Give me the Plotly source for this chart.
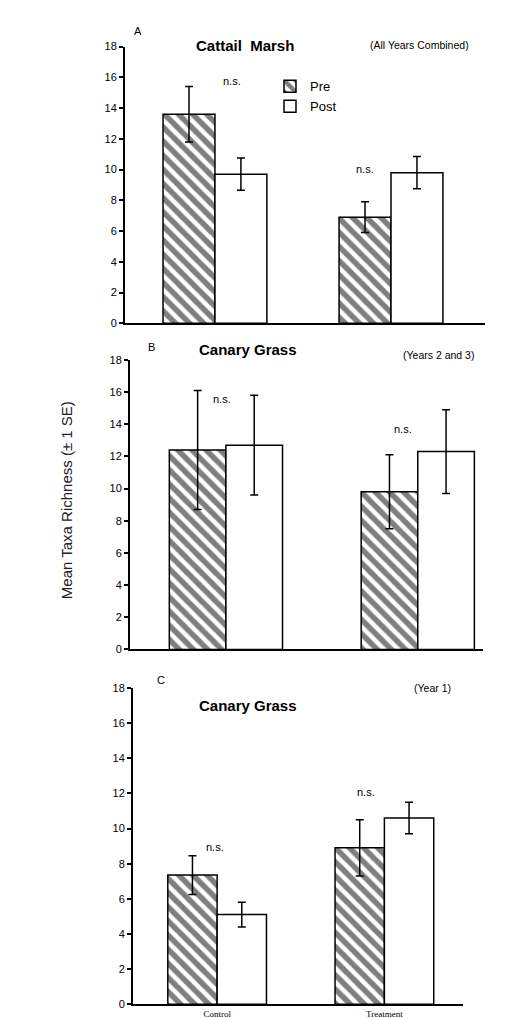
import plotly.graph_objects as go

categories = ["Control", "Treatment"]

# Panel A: Cattail Marsh (All Years Combined)
a_pre = [13.6, 6.9]
a_pre_se = [1.8, 1.0]
a_post = [9.7, 9.8]
a_post_se = [1.05, 1.05]

# Panel B: Canary Grass (Years 2 and 3)
b_pre = [12.4, 9.8]
b_pre_se = [3.7, 2.3]
b_post = [12.7, 12.3]
b_post_se = [3.1, 2.6]

# Panel C: Canary Grass (Year 1)
c_pre = [7.35, 8.9]
c_pre_se = [1.1, 1.6]
c_post = [5.1, 10.6]
c_post_se = [0.7, 0.9]

y_ticks = [0, 2, 4, 6, 8, 10, 12, 14, 16, 18]

W, H = 507, 1018
FONT = "Liberation Sans, Arial, sans-serif"

fig = go.Figure()

panels = [
    ("x", "y", a_pre, a_pre_se, a_post, a_post_se, True),
    ("x2", "y2", b_pre, b_pre_se, b_post, b_post_se, False),
    ("x3", "y3", c_pre, c_pre_se, c_post, c_post_se, False),
]

for xa, ya, pre, pre_se, post, post_se, show in panels:
    fig.add_trace(go.Bar(
        x=categories, y=pre, name="Pre", xaxis=xa, yaxis=ya,
        offsetgroup="pre", legendgroup="pre", showlegend=show,
        marker=dict(color="white", line=dict(color="black", width=1.5),
                    pattern=dict(shape="\\", fgcolor="black", bgcolor="white",
                                 size=10, solidity=0.55)),
        error_y=dict(type="data", array=pre_se, color="black", thickness=1.5, width=4),
    ))
    fig.add_trace(go.Bar(
        x=categories, y=post, name="Post", xaxis=xa, yaxis=ya,
        offsetgroup="post", legendgroup="post", showlegend=show,
        marker=dict(color="white", line=dict(color="black", width=1.5)),
        error_y=dict(type="data", array=post_se, color="black", thickness=1.5, width=4),
    ))

def px_x(p):
    return p / W

def px_y(p):
    return 1 - p / H

# axis geometry (pixels)
geo = {
    "": dict(x0=117, x1=477, y0=313, y1=33, r0=-0.511, r1=1.534),
    "2": dict(x0=122, x1=475, y0=643, y1=350, r0=-0.50, r1=1.34),
    "3": dict(x0=125, x1=455, y0=1002, y1=682, r0=-0.503, r1=1.47),
}

for k, g in geo.items():
    fig.update_layout(**{
        "xaxis" + k: dict(
            domain=[px_x(g["x0"]), px_x(g["x1"])],
            anchor="y" + k, range=[g["r0"], g["r1"]],
            showline=True, linecolor="black", linewidth=2,
            showgrid=False, zeroline=False,
            ticks="", showticklabels=(k == "3"),
            tickfont=dict(family="Liberation Serif, Times New Roman, serif", size=9, color="black"),
            type="category", fixedrange=True,
        ),
        "yaxis" + k: dict(
            domain=[px_y(g["y0"]), px_y(g["y1"])],
            anchor="x" + k, range=[0, 18],
            tickvals=y_ticks, ticks="outside", ticklen=4, tickwidth=1.5, tickcolor="black",
            showline=True, linecolor="black", linewidth=2,
            showgrid=False, zeroline=False,
            tickfont=dict(family=FONT, size=11, color="black"),
        ),
    })

annotations = [
    # panel A
    dict(x=px_x(130), y=px_y(17), text="A", font=dict(size=11)),
    dict(x=px_x(237), y=px_y(32), text="<b>Cattail  Marsh</b>", font=dict(size=15)),
    dict(x=px_x(411), y=px_y(31), text="(All Years Combined)", font=dict(size=10.5)),
    dict(x=px_x(224), y=px_y(68), text="n.s.", font=dict(size=11)),
    dict(x=px_x(357), y=px_y(157), text="n.s.", font=dict(size=11)),
    # panel B
    dict(x=px_x(143), y=px_y(337), text="B", font=dict(size=11)),
    dict(x=px_x(240), y=px_y(340), text="<b>Canary Grass</b>", font=dict(size=15)),
    dict(x=px_x(430), y=px_y(345), text="(Years 2 and 3)", font=dict(size=10.5)),
    dict(x=px_x(214), y=px_y(390), text="n.s.", font=dict(size=11)),
    dict(x=px_x(395), y=px_y(420), text="n.s.", font=dict(size=11)),
    # panel C
    dict(x=px_x(153), y=px_y(674), text="C", font=dict(size=11)),
    dict(x=px_x(240), y=px_y(700), text="<b>Canary Grass</b>", font=dict(size=15)),
    dict(x=px_x(424), y=px_y(682), text="(Year 1)", font=dict(size=10.5)),
    dict(x=px_x(207), y=px_y(843), text="n.s.", font=dict(size=11)),
    dict(x=px_x(358), y=px_y(787), text="n.s.", font=dict(size=11)),
]
for a in annotations:
    a.update(xref="paper", yref="paper", showarrow=False,
             xanchor="center", yanchor="middle")
    a["font"].update(family=FONT, color="black")

annotations.append(dict(
    xref="paper", yref="paper", x=px_x(58), y=px_y(492),
    text="Mean Taxa Richness (± 1 SE)", textangle=-90, showarrow=False,
    xanchor="center", yanchor="middle",
    font=dict(family=FONT, size=15, color="#222"),
))

fig.update_layout(
    width=W, height=H,
    margin=dict(l=0, r=0, t=0, b=0),
    paper_bgcolor="white", plot_bgcolor="white",
    barmode="group", bargap=0.41, bargroupgap=0,
    showlegend=True,
    legend=dict(x=px_x(262), y=px_y(58), xanchor="left", yanchor="top",
                bgcolor="rgba(0,0,0,0)", font=dict(family=FONT, size=13, color="black"),
                itemwidth=30, tracegroupgap=0),
    annotations=annotations,
    font=dict(family=FONT, color="black"),
)

fig.write_html("out.html")
